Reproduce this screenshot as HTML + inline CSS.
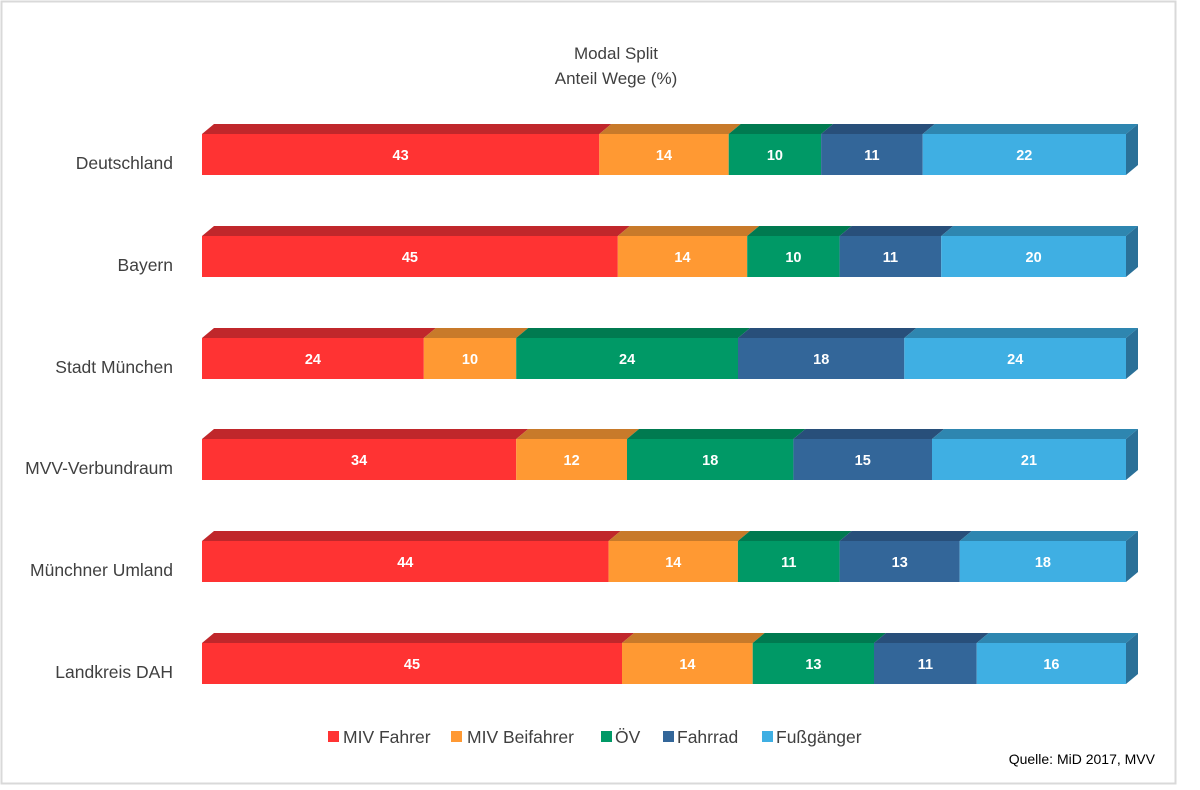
<!DOCTYPE html>
<html><head><meta charset="utf-8"><style>
html,body{margin:0;padding:0;background:#fff}
svg{display:block;font-family:"Liberation Sans",sans-serif}
.l{font-size:17.5px;fill:#404040;text-anchor:end}
.v{font-size:14.5px;font-weight:bold;fill:#fff;text-anchor:middle}
.g{font-size:17.5px;fill:#404040}
</style></head><body>
<svg width="1200" height="790" viewBox="0 0 1200 790">
<rect x="1.5" y="1.5" width="1174" height="782" fill="#fff" stroke="#d9d9d9" stroke-width="2"/>
<text x="616" y="59" text-anchor="middle" font-size="17" fill="#404040">Modal Split</text>
<text x="616" y="84" text-anchor="middle" font-size="17" fill="#404040">Anteil Wege (%)</text>

<g transform="translate(0,134)">
<polygon points="202,0 214,-10 611.3,-10 599.3,0" fill="#C0272B"/><rect x="202" y="0" width="397.3" height="41" fill="#FF3333"/>
<polygon points="599.3,0 611.3,-10 740.7,-10 728.7,0" fill="#C87A2A"/><rect x="599.3" y="0" width="129.4" height="41" fill="#FF9933"/>
<polygon points="728.7,0 740.7,-10 833.1,-10 821.1,0" fill="#007A50"/><rect x="728.7" y="0" width="92.4" height="41" fill="#009966"/>
<polygon points="821.1,0 833.1,-10 934.7,-10 922.7,0" fill="#284F7A"/><rect x="821.1" y="0" width="101.6" height="41" fill="#336699"/>
<polygon points="922.7,0 934.7,-10 1138,-10 1126,0" fill="#2E86B0"/><rect x="922.7" y="0" width="203.3" height="41" fill="#3FAFE3"/>
<polygon points="1126,0 1138,-10 1138,31 1126,41" fill="#2A7098"/>
<text class="l" x="173" y="35">Deutschland</text>
<text class="v" x="400.6" y="26">43</text><text class="v" x="664" y="26">14</text><text class="v" x="774.9" y="26">10</text><text class="v" x="871.9" y="26">11</text><text class="v" x="1024.3" y="26">22</text>
</g>

<g transform="translate(0,236)">
<polygon points="202,0 214,-10 629.8,-10 617.8,0" fill="#C0272B"/><rect x="202" y="0" width="415.8" height="41" fill="#FF3333"/>
<polygon points="617.8,0 629.8,-10 759.2,-10 747.2,0" fill="#C87A2A"/><rect x="617.8" y="0" width="129.4" height="41" fill="#FF9933"/>
<polygon points="747.2,0 759.2,-10 851.6,-10 839.6,0" fill="#007A50"/><rect x="747.2" y="0" width="92.4" height="41" fill="#009966"/>
<polygon points="839.6,0 851.6,-10 953.2,-10 941.2,0" fill="#284F7A"/><rect x="839.6" y="0" width="101.6" height="41" fill="#336699"/>
<polygon points="941.2,0 953.2,-10 1138,-10 1126,0" fill="#2E86B0"/><rect x="941.2" y="0" width="184.8" height="41" fill="#3FAFE3"/>
<polygon points="1126,0 1138,-10 1138,31 1126,41" fill="#2A7098"/>
<text class="l" x="173" y="35">Bayern</text>
<text class="v" x="409.9" y="26">45</text><text class="v" x="682.5" y="26">14</text><text class="v" x="793.4" y="26">10</text><text class="v" x="890.4" y="26">11</text><text class="v" x="1033.6" y="26">20</text>
</g>

<g transform="translate(0,338)">
<polygon points="202,0 214,-10 435.8,-10 423.8,0" fill="#C0272B"/><rect x="202" y="0" width="221.8" height="41" fill="#FF3333"/>
<polygon points="423.8,0 435.8,-10 528.2,-10 516.2,0" fill="#C87A2A"/><rect x="423.8" y="0" width="92.4" height="41" fill="#FF9933"/>
<polygon points="516.2,0 528.2,-10 750,-10 738,0" fill="#007A50"/><rect x="516.2" y="0" width="221.8" height="41" fill="#009966"/>
<polygon points="738,0 750,-10 916.3,-10 904.3,0" fill="#284F7A"/><rect x="738" y="0" width="166.3" height="41" fill="#336699"/>
<polygon points="904.3,0 916.3,-10 1138,-10 1126,0" fill="#2E86B0"/><rect x="904.3" y="0" width="221.7" height="41" fill="#3FAFE3"/>
<polygon points="1126,0 1138,-10 1138,31 1126,41" fill="#2A7098"/>
<text class="l" x="173" y="35">Stadt München</text>
<text class="v" x="312.9" y="26">24</text><text class="v" x="470" y="26">10</text><text class="v" x="627.1" y="26">24</text><text class="v" x="821.2" y="26">18</text><text class="v" x="1015.2" y="26">24</text>
</g>

<g transform="translate(0,439)">
<polygon points="202,0 214,-10 528.2,-10 516.2,0" fill="#C0272B"/><rect x="202" y="0" width="314.2" height="41" fill="#FF3333"/>
<polygon points="516.2,0 528.2,-10 639,-10 627,0" fill="#C87A2A"/><rect x="516.2" y="0" width="110.8" height="41" fill="#FF9933"/>
<polygon points="627,0 639,-10 805.4,-10 793.4,0" fill="#007A50"/><rect x="627" y="0" width="166.4" height="41" fill="#009966"/>
<polygon points="793.4,0 805.4,-10 944,-10 932,0" fill="#284F7A"/><rect x="793.4" y="0" width="138.6" height="41" fill="#336699"/>
<polygon points="932,0 944,-10 1138,-10 1126,0" fill="#2E86B0"/><rect x="932" y="0" width="194" height="41" fill="#3FAFE3"/>
<polygon points="1126,0 1138,-10 1138,31 1126,41" fill="#2A7098"/>
<text class="l" x="173" y="35">MVV-Verbundraum</text>
<text class="v" x="359.1" y="26">34</text><text class="v" x="571.6" y="26">12</text><text class="v" x="710.2" y="26">18</text><text class="v" x="862.7" y="26">15</text><text class="v" x="1029" y="26">21</text>
</g>

<g transform="translate(0,541)">
<polygon points="202,0 214,-10 620.6,-10 608.6,0" fill="#C0272B"/><rect x="202" y="0" width="406.6" height="41" fill="#FF3333"/>
<polygon points="608.6,0 620.6,-10 749.9,-10 737.9,0" fill="#C87A2A"/><rect x="608.6" y="0" width="129.3" height="41" fill="#FF9933"/>
<polygon points="737.9,0 749.9,-10 851.6,-10 839.6,0" fill="#007A50"/><rect x="737.9" y="0" width="101.7" height="41" fill="#009966"/>
<polygon points="839.6,0 851.6,-10 971.7,-10 959.7,0" fill="#284F7A"/><rect x="839.6" y="0" width="120.1" height="41" fill="#336699"/>
<polygon points="959.7,0 971.7,-10 1138,-10 1126,0" fill="#2E86B0"/><rect x="959.7" y="0" width="166.3" height="41" fill="#3FAFE3"/>
<polygon points="1126,0 1138,-10 1138,31 1126,41" fill="#2A7098"/>
<text class="l" x="173" y="35">Münchner Umland</text>
<text class="v" x="405.3" y="26">44</text><text class="v" x="673.3" y="26">14</text><text class="v" x="788.8" y="26">11</text><text class="v" x="899.7" y="26">13</text><text class="v" x="1042.9" y="26">18</text>
</g>

<g transform="translate(0,643)">
<polygon points="202,0 214,-10 634,-10 622,0" fill="#C0272B"/><rect x="202" y="0" width="420" height="41" fill="#FF3333"/>
<polygon points="622,0 634,-10 764.7,-10 752.7,0" fill="#C87A2A"/><rect x="622" y="0" width="130.7" height="41" fill="#FF9933"/>
<polygon points="752.7,0 764.7,-10 886,-10 874,0" fill="#007A50"/><rect x="752.7" y="0" width="121.3" height="41" fill="#009966"/>
<polygon points="874,0 886,-10 988.7,-10 976.7,0" fill="#284F7A"/><rect x="874" y="0" width="102.7" height="41" fill="#336699"/>
<polygon points="976.7,0 988.7,-10 1138,-10 1126,0" fill="#2E86B0"/><rect x="976.7" y="0" width="149.3" height="41" fill="#3FAFE3"/>
<polygon points="1126,0 1138,-10 1138,31 1126,41" fill="#2A7098"/>
<text class="l" x="173" y="35">Landkreis DAH</text>
<text class="v" x="412" y="26">45</text><text class="v" x="687.4" y="26">14</text><text class="v" x="813.4" y="26">13</text><text class="v" x="925.4" y="26">11</text><text class="v" x="1051.4" y="26">16</text>
</g>

<rect x="328" y="731" width="11" height="11" fill="#FF3333"/><text class="g" x="343" y="743">MIV Fahrer</text>
<rect x="451" y="731" width="11" height="11" fill="#FF9933"/><text class="g" x="467" y="743">MIV Beifahrer</text>
<rect x="601" y="731" width="11" height="11" fill="#009966"/><text class="g" x="615" y="743">ÖV</text>
<rect x="663" y="731" width="11" height="11" fill="#336699"/><text class="g" x="677" y="743">Fahrrad</text>
<rect x="762" y="731" width="11" height="11" fill="#3FAFE3"/><text class="g" x="776" y="743">Fußgänger</text>
<text x="1155" y="764" text-anchor="end" font-size="14" fill="#000">Quelle: MiD 2017, MVV</text>
</svg>
</body></html>
